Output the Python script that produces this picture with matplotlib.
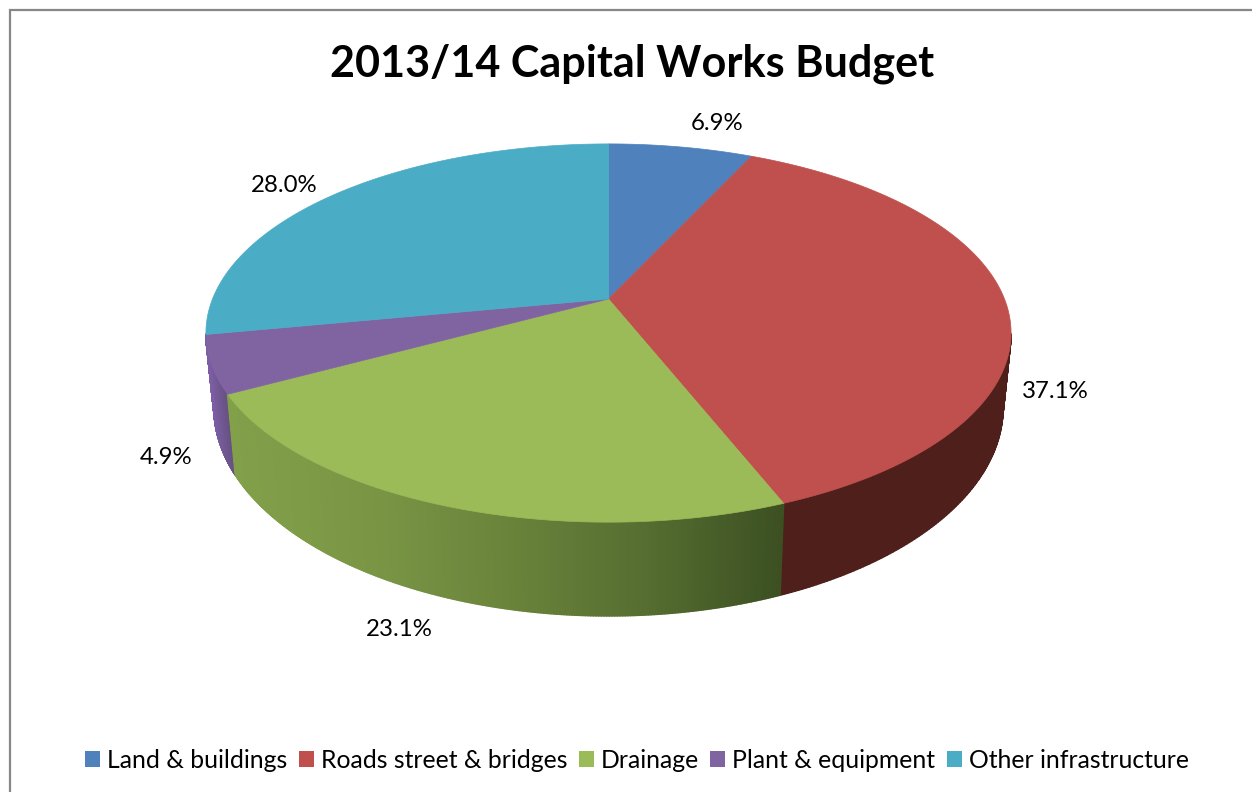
"""Capital works budget split, drawn as a tilted 3D pie."""

import matplotlib
matplotlib.use("Agg")
import matplotlib.pyplot as plt
from matplotlib.collections import PolyCollection
from matplotlib.colors import LinearSegmentedColormap, Normalize
from matplotlib.patches import Patch, Polygon
import numpy as np

plt.rcParams["font.family"] = ["Lato", "DejaVu Sans"]

CATEGORIES = ["Land & buildings", "Roads street & bridges", "Drainage",
              "Plant & equipment", "Other infrastructure"]
SHARES = [6.9, 37.1, 23.1, 4.9, 28.0]
TITLE = "2013/14 Capital Works Budget"

COLORS = ["#4F81BD", "#C0504D", "#9BBB59", "#8064A2", "#4BACC6"]
WALL_STOPS = [
    ["#2F4A70", "#2F4A70"],
    ["#4E1F1B", "#4E1F1B"],
    ["#82A04A", "#7A9645", "#6A843B", "#566E31", "#3C5022"],
    ["#7D5EA5", "#64507F"],
    ["#2C6C80", "#2C6C80"],
]
LABEL_XY = [(717, 124), (1055, 391), (399, 629), (166, 458), (284, 186)]

# projection of the unit disc onto the page, in pixels
CX, TOP_Y, BOTTOM_Y = 608.5, 299.0, 370.0
A_TOP, B_TOP = 396.0, 183.0
A_BOTTOM, B_BOTTOM = 388.0, 201.6
PERSPECTIVE = -0.18


def rim(fracs, y0, a, b):
    theta = 2 * np.pi * np.asarray(fracs)
    x, depth = np.sin(theta), -np.cos(theta)
    w = 1 + PERSPECTIVE * depth
    return CX + a * x / w, y0 + b * depth / w


def draw_wall(ax, start, stop, stops):
    fracs = np.linspace(start, stop, 260)
    # only the part of the rim in front of the silhouette points shows
    fracs = fracs[-np.cos(2 * np.pi * fracs) >= abs(PERSPECTIVE)]
    if len(fracs) < 2:
        return
    xt, yt = rim(fracs, TOP_Y, A_TOP, B_TOP)
    xb, yb = rim(fracs, BOTTOM_Y, A_BOTTOM, B_BOTTOM)
    quads = [[(xt[i], yt[i]), (xt[i + 1], yt[i + 1]), (xb[i + 1], yb[i + 1]), (xb[i], yb[i])]
             for i in range(len(fracs) - 1)]
    mid_x = (xt[:-1] + xt[1:] + xb[:-1] + xb[1:]) / 4
    cmap = LinearSegmentedColormap.from_list("wall", stops)
    shade = cmap(Normalize(mid_x.min(), mid_x.max())(mid_x))
    ax.add_collection(PolyCollection(quads, facecolors=shade, edgecolors=shade, linewidths=1.2))


def main():
    fig = plt.figure(figsize=(12.52, 7.92), dpi=100, facecolor="white")
    ax = fig.add_axes([0, 0, 1, 1])
    ax.set_xlim(0, 1252)
    ax.set_ylim(792, 0)
    ax.axis("off")

    # chart frame, only top and left show
    ax.plot([10, 10, 1252], [792, 10, 10], color="#878787", lw=1.6, solid_joinstyle="miter")

    edges = np.cumsum([0] + SHARES) / sum(SHARES)

    # side walls first, the top faces go over them
    order = sorted(range(len(SHARES)), key=lambda i: rim([(edges[i] + edges[i + 1]) / 2], BOTTOM_Y, A_BOTTOM, B_BOTTOM)[1][0])
    for i in order:
        draw_wall(ax, edges[i], edges[i + 1], WALL_STOPS[i])

    for i, color in enumerate(COLORS):
        xs, ys = rim(np.linspace(edges[i], edges[i + 1], 200), TOP_Y, A_TOP, B_TOP)
        pts = np.column_stack([np.r_[CX, xs], np.r_[TOP_Y, ys]])
        ax.add_patch(Polygon(pts, closed=True, facecolor=color, edgecolor=color, lw=0.5))

    for share, (x, y) in zip(SHARES, LABEL_XY):
        ax.text(x, y, f"{share:.1f}%", ha="center", va="center", fontsize=17.3, color="#000000")

    ax.text(632, 64, TITLE, ha="center", va="center", fontsize=31.1, fontweight="bold", color="#000000")

    handles = [Patch(facecolor=c, edgecolor="none") for c in COLORS]
    ax.legend(handles, CATEGORIES, loc="center", bbox_to_anchor=(637 / 1252, 1 - 760 / 792),
              ncol=5, frameon=False, fontsize=17.8, handlelength=0.61, handleheight=0.61,
              handletextpad=0.29, columnspacing=0.45, borderpad=0, borderaxespad=0)

    fig.savefig("out.png", dpi=100)
    plt.close(fig)


if __name__ == "__main__":
    main()
